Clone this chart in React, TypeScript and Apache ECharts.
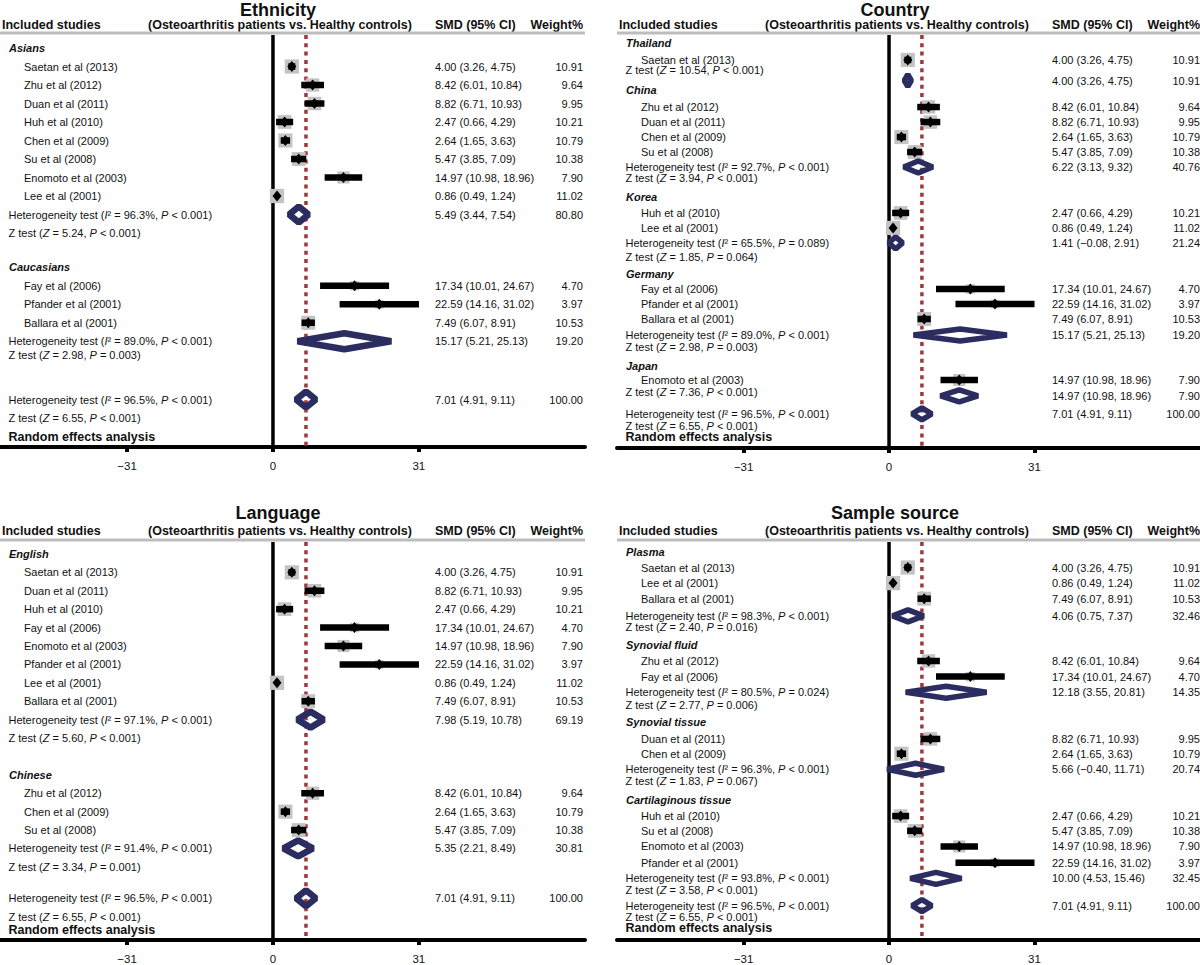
import React, { useEffect, useRef } from "react";
import * as echarts from "echarts";

// ---------------- Data ----------------
const studyNames = [
  "Saetan et al (2013)",
  "Zhu et al (2012)",
  "Duan et al (2011)",
  "Huh et al (2010)",
  "Chen et al (2009)",
  "Su et al (2008)",
  "Enomoto et al (2003)",
  "Lee et al (2001)",
  "Fay et al (2006)",
  "Pfander et al (2001)",
  "Ballara et al (2001)",
];
const studySMD = [4.0, 8.42, 8.82, 2.47, 2.64, 5.47, 14.97, 0.86, 17.34, 22.59, 7.49];
const studyLow = [3.26, 6.01, 6.71, 0.66, 1.65, 3.85, 10.98, 0.49, 10.01, 14.16, 6.07];
const studyHigh = [4.75, 10.84, 10.93, 4.29, 3.63, 7.09, 18.96, 1.24, 24.67, 31.02, 8.91];
const studyWeight = [10.91, 9.64, 9.95, 10.21, 10.79, 10.38, 7.9, 11.02, 4.7, 3.97, 10.53];

const groupNames = [
  "Asians", "Caucasians", "Thailand", "China", "Korea", "Germany", "Japan",
  "English", "Chinese", "Plasma", "Synovial fluid", "Synovial tissue",
  "Cartilaginous tissue", "Overall",
];
const groupSMD = [5.49, 15.17, 4.0, 6.22, 1.41, 15.17, 14.97, 7.98, 5.35, 4.06, 12.18, 5.66, 10.0, 7.01];
const groupLow = [3.44, 5.21, 3.26, 3.13, -0.08, 5.21, 10.98, 5.19, 2.21, 0.75, 3.55, -0.4, 4.53, 4.91];
const groupHigh = [7.54, 25.13, 4.75, 9.32, 2.91, 25.13, 18.96, 10.78, 8.49, 7.37, 20.81, 11.71, 15.46, 9.11];
const groupWeight = [80.8, 19.2, 10.91, 40.76, 21.24, 19.2, 7.9, 69.19, 30.81, 32.46, 14.35, 20.74, 32.45, 100.0];
const groupI2 = ["96.3%", "89.0%", "", "92.7%", "65.5%", "89.0%", "", "97.1%", "91.4%", "98.3%", "80.5%", "96.3%", "93.8%", "96.5%"];
const groupHetP = ["< 0.001", "< 0.001", "", "< 0.001", "= 0.089", "< 0.001", "", "< 0.001", "< 0.001", "< 0.001", "= 0.024", "< 0.001", "< 0.001", "< 0.001"];
const groupZ = ["5.24", "2.98", "10.54", "3.94", "1.85", "2.98", "7.36", "5.60", "3.34", "2.40", "2.77", "1.83", "3.58", "6.55"];
const groupZP = ["< 0.001", "= 0.003", "< 0.001", "< 0.001", "= 0.064", "= 0.003", "< 0.001", "< 0.001", "= 0.001", "= 0.016", "= 0.006", "= 0.067", "< 0.001", "< 0.001"];
const OVERALL = 13;

const panelTitles = ["Ethnicity", "Country", "Language", "Sample source"];
const headerLabels = ["Included studies", "(Osteoarthritis patients vs. Healthy controls)", "SMD (95% CI)", "Weight%"];
const axisTicks = [-31, 0, 31];

// rows: [kind, reference index, row position]
// g = subgroup heading, s = study, h = heterogeneity + pooled, z = Z test, d = pooled only, r = model note
const ethnicityRows: [string, number, number][] = [
  ["g", 0, 0], ["s", 0, 1], ["s", 1, 2], ["s", 2, 3], ["s", 3, 4], ["s", 4, 5], ["s", 5, 6],
  ["s", 6, 7], ["s", 7, 8], ["h", 0, 9], ["z", 0, 10],
  ["g", 1, 11.85], ["s", 8, 12.85], ["s", 9, 13.85], ["s", 10, 14.85], ["h", 1, 15.85], ["z", 1, 16.6],
  ["h", 13, 19], ["z", 13, 20], ["r", -1, 21],
];
const countryRows: [string, number, number][] = [
  ["g", 2, 0], ["s", 0, 1.13], ["z", 2, 1.8], ["d", 2, 2.5],
  ["g", 3, 3.13], ["s", 1, 4.27], ["s", 2, 5.27], ["s", 4, 6.27], ["s", 5, 7.27], ["h", 3, 8.27], ["z", 3, 9.0],
  ["g", 4, 10.27], ["s", 3, 11.33], ["s", 7, 12.33], ["h", 4, 13.33], ["z", 4, 14.27],
  ["g", 5, 15.4], ["s", 8, 16.4], ["s", 9, 17.4], ["s", 10, 18.4], ["h", 5, 19.47], ["z", 5, 20.27],
  ["g", 6, 21.53], ["s", 6, 22.47], ["z", 6, 23.27], ["d", 6, 23.53],
  ["h", 13, 24.73], ["z", 13, 25.53], ["r", -1, 26.27],
];
const languageRows: [string, number, number][] = [
  ["g", 7, 0], ["s", 0, 1], ["s", 2, 2], ["s", 3, 3], ["s", 8, 4], ["s", 6, 5], ["s", 9, 6],
  ["s", 7, 7], ["s", 10, 8], ["h", 7, 9], ["z", 7, 10],
  ["g", 8, 12], ["s", 1, 13], ["s", 4, 14], ["s", 5, 15], ["h", 8, 16], ["z", 8, 17],
  ["h", 13, 18.7], ["z", 13, 19.7], ["r", -1, 20.45],
];
const sampleRows: [string, number, number][] = [
  ["g", 9, 0], ["s", 0, 1], ["s", 7, 2], ["s", 10, 3], ["h", 9, 4.1], ["z", 9, 4.8],
  ["g", 10, 6], ["s", 1, 7], ["s", 8, 8], ["h", 10, 9], ["z", 10, 9.8],
  ["g", 11, 10.9], ["s", 2, 12], ["s", 4, 12.95], ["h", 11, 13.95], ["z", 11, 14.7],
  ["g", 12, 15.9], ["s", 3, 16.95], ["s", 5, 17.9], ["s", 6, 18.9], ["s", 9, 19.95], ["h", 12, 20.95], ["z", 12, 21.7],
  ["h", 13, 22.7], ["z", 13, 23.45], ["r", -1, 24.15],
];
const panelRows = [ethnicityRows, countryRows, languageRows, sampleRows];

// ---------------- Layout / style ----------------
const FONT = "'Liberation Sans', Arial, Helvetica, sans-serif";
const TXT = "#111";
const NAVY = "#2b2c5f";
const RED = "#a3363b";
const GRAY = "#c4c4c4";
const PANEL_W = 585;
const X_MIN = -58;
const X_MAX = 66.3;
const layouts = [
  { left: 0, top: 35, bottom: 447, row0: 48, rowH: 18.5, titleY: 9.5, headY: 25, diaH: 8, diaLW: 6.5 },
  { left: 617, top: 35, bottom: 448, row0: 43, rowH: 15, titleY: 9.5, headY: 25, diaH: 6, diaLW: 5.5 },
  { left: 0, top: 542, bottom: 942, row0: 554, rowH: 18.5, titleY: 513, headY: 531, diaH: 8, diaLW: 6.5 },
  { left: 617, top: 542, bottom: 943, row0: 552, rowH: 15.7, titleY: 513, headY: 531, diaH: 6, diaLW: 5.5 },
];

const num = (v: number) => (v < 0 ? "\u2212" + Math.abs(v).toFixed(2) : v.toFixed(2));
const ci = (e: number, l: number, h: number) => `${num(e)} (${num(l)}, ${num(h)})`;

function textEl(x: number, y: number, text: string, o: any = {}) {
  const size = o.size ?? 11;
  const align = o.align ?? "left";
  return {
    type: "text",
    x,
    y,
    z2: 20,
    style: {
      text,
      fill: TXT,
      fontSize: size,
      fontFamily: FONT,
      fontWeight: o.weight ?? "normal",
      fontStyle: o.fstyle ?? "normal",
      align,
      verticalAlign: "middle",
      textAlign: align,
      textVerticalAlign: "middle",
      rich: {
        it: { fontStyle: "italic", fontSize: size, fontFamily: FONT, fill: TXT },
      },
    },
  };
}

function buildOption() {
  const grid: any[] = [];
  const xAxis: any[] = [];
  const yAxis: any[] = [];
  const series: any[] = [];
  const graphic: any[] = [];

  panelRows.forEach((rows, p) => {
    const lay = layouts[p];
    const L = lay.left;
    const yMin = (lay.top - lay.row0) / lay.rowH;
    const yMax = (lay.bottom - lay.row0) / lay.rowH;

    grid.push({ left: L, top: lay.top, width: PANEL_W, height: lay.bottom - lay.top });
    xAxis.push({
      gridIndex: p,
      type: "value",
      min: X_MIN,
      max: X_MAX,
      axisLine: { show: true, onZero: false, lineStyle: { color: "#000", width: 4 } },
      axisTick: { show: true, customValues: axisTicks, length: 5, lineStyle: { color: "#000", width: 4 } },
      axisLabel: {
        customValues: axisTicks,
        formatter: (v: number) => (v < 0 ? "\u2212" + Math.abs(v) : String(v)),
        color: TXT,
        fontSize: 11.5,
        fontFamily: FONT,
        margin: 13,
      },
      splitLine: { show: false },
    });
    yAxis.push({ gridIndex: p, type: "value", inverse: true, min: yMin, max: yMax, show: false });

    // reference lines: no effect (0) and overall pooled SMD
    series.push({
      type: "custom",
      xAxisIndex: p,
      yAxisIndex: p,
      z: 1,
      silent: true,
      data: [[0, 0, 0], [groupSMD[OVERALL], 0, 1]],
      encode: { x: 0, y: 1 },
      renderItem: (params: any, api: any) => {
        const xv = api.value(0);
        const zero = api.value(2) === 0;
        const a = api.coord([xv, yMin]);
        const b = api.coord([xv, yMax]);
        return {
          type: "line",
          shape: { x1: a[0], y1: a[1], x2: b[0], y2: b[1] },
          style: zero
            ? { stroke: "#000", lineWidth: 3.5 }
            : { stroke: RED, lineWidth: 3.5, lineDash: [4, 4.3] },
        };
      },
    });

    // rows: labels, marks, numbers
    series.push({
      type: "custom",
      xAxisIndex: p,
      yAxisIndex: p,
      z: 5,
      silent: true,
      data: rows.map((r, i) => [0, r[2], i]),
      encode: { x: 0, y: 1 },
      renderItem: (params: any, api: any) => {
        const [kind, ref, pos] = rows[api.value(2)];
        const y = api.coord([0, pos])[1];
        const X = (v: number) => api.coord([v, pos])[0];
        const ch: any[] = [];
        if (kind === "g") {
          ch.push(textEl(L + 9, y, groupNames[ref], { weight: "bold", fstyle: "italic" }));
        } else if (kind === "r") {
          ch.push(textEl(L + 8.5, y, "Random effects analysis", { weight: "bold", size: 12.5 }));
        } else if (kind === "z") {
          ch.push(textEl(L + 8.5, y, `Z test ({it|Z} = ${groupZ[ref]}, {it|P} ${groupZP[ref]})`));
        } else if (kind === "s") {
          const e = studySMD[ref], lo = studyLow[ref], hi = studyHigh[ref];
          const sq = Math.sqrt(studyWeight[ref]) * 4.3;
          const xe = X(e);
          ch.push({ type: "rect", shape: { x: xe - sq / 2, y: y - sq / 2, width: sq, height: sq }, style: { fill: GRAY } });
          ch.push({ type: "rect", shape: { x: X(lo), y: y - 3.25, width: X(hi) - X(lo), height: 6.5 }, style: { fill: "#000" } });
          ch.push({
            type: "polygon",
            shape: { points: [[xe - 4.5, y], [xe, y - 5.5], [xe + 4.5, y], [xe, y + 5.5]] },
            style: { fill: "#000" },
          });
          ch.push(textEl(L + 24, y, studyNames[ref]));
          ch.push(textEl(L + 435, y, ci(e, lo, hi)));
          ch.push(textEl(L + 583, y, studyWeight[ref].toFixed(2), { align: "right" }));
        } else if (kind === "h" || kind === "d") {
          const e = groupSMD[ref], lo = groupLow[ref], hi = groupHigh[ref];
          const xe = X(e);
          const h = lay.diaH;
          ch.push({
            type: "polygon",
            shape: { points: [[X(lo), y], [xe, y - h], [X(hi), y], [xe, y + h]] },
            style: { fill: "none", stroke: NAVY, lineWidth: lay.diaLW, lineJoin: "bevel" },
          });
          if (kind === "h") {
            ch.push(textEl(L + 8.5, y, `Heterogeneity test ({it|I}\u00b2 = ${groupI2[ref]}, {it|P} ${groupHetP[ref]})`));
          }
          ch.push(textEl(L + 435, y, ci(e, lo, hi)));
          ch.push(textEl(L + 583, y, groupWeight[ref].toFixed(2), { align: "right" }));
        }
        return { type: "group", children: ch };
      },
    });

    // title, column headers, header rule
    graphic.push({
      type: "text",
      x: L + 278,
      y: lay.titleY,
      style: { text: panelTitles[p], fill: TXT, font: `bold 18px ${FONT}`, align: "center", verticalAlign: "middle", textAlign: "center", textVerticalAlign: "middle" },
    });
    const hx = [L + 2, L + 148, L + 435, L + 583];
    headerLabels.forEach((t, i) => {
      const al = i === 3 ? "right" : "left";
      graphic.push({
        type: "text",
        x: hx[i],
        y: lay.headY,
        style: { text: t, fill: TXT, font: `bold 12.5px ${FONT}`, align: al, verticalAlign: "middle", textAlign: al, textVerticalAlign: "middle" },
      });
    });
    graphic.push({
      type: "rect",
      shape: { x: L, y: lay.top - 3.5, width: PANEL_W, height: 3 },
      style: { fill: "#bdbdbd" },
    });
  });

  return {
    animation: false,
    backgroundColor: "#fff",
    grid,
    xAxis,
    yAxis,
    series,
    graphic,
  };
}

export default function App() {
  const ref = useRef<HTMLDivElement>(null);
  useEffect(() => {
    const chart = echarts.init(ref.current as HTMLDivElement, null, { renderer: "svg" });
    chart.setOption(buildOption() as any);
    return () => chart.dispose();
  }, []);
  return (
    <div
      ref={ref}
      style={{ position: "absolute", left: 0, top: 0, width: 1200, height: 965, background: "#fff" }}
    />
  );
}
